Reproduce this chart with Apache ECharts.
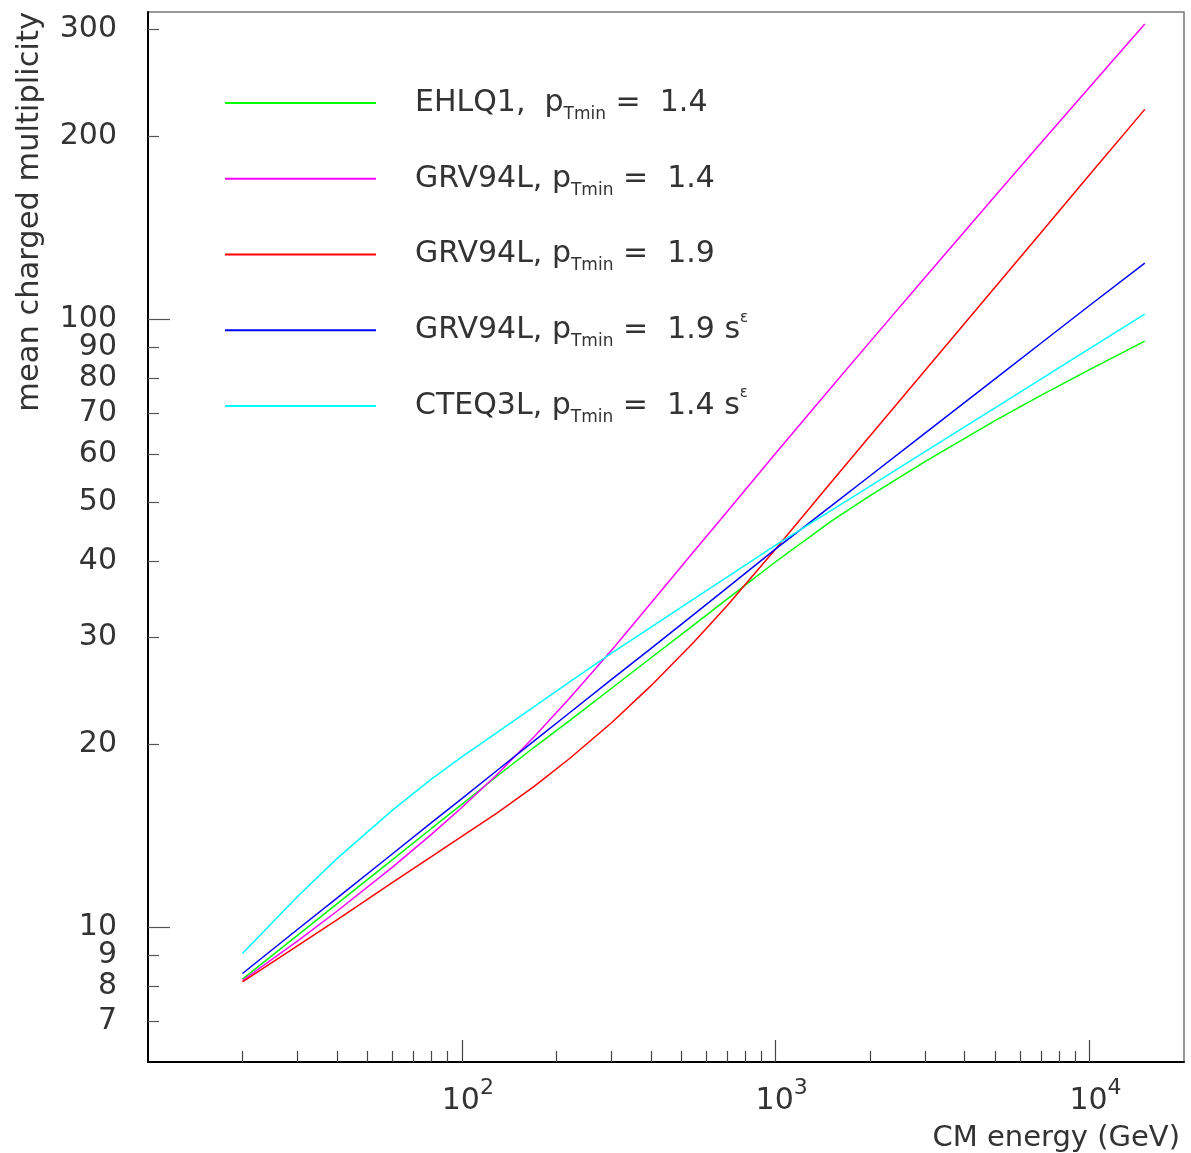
<!DOCTYPE html>
<html><head><meta charset="utf-8">
<script src="https://cdn.jsdelivr.net/npm/echarts@6/dist/echarts.min.js"></script>
<style>html,body{margin:0;padding:0;background:#fff}#c{width:1191px;height:1153px}</style>
</head><body><div id="c"></div>
<script>
// CM energy (GeV)
const energies = [20,30,40,60,80,100,130,170,220,300,400,550,700,1000,1500,2000,3000,5000,7000,10000,15000];
// mean charged multiplicity per model
const ehlq1_14  = [8.21,9.70,10.92,12.90,14.53,15.92,17.74,19.76,21.84,24.71,27.71,31.44,34.62,39.9,46.49,51.25,58.34,68.07,74.9,82.6,92.0];
const grv94_14  = [8.17,9.49,10.62,12.54,14.21,15.73,17.86,20.56,23.76,28.53,34.10,41.54,48.23,60.16,77.11,91.83,117.3,159.4,194.9,240.7,305.8];
const grv94_19  = [8.13,9.32,10.28,11.83,13.06,14.10,15.43,17.04,18.92,21.68,24.93,29.47,33.78,41.86,53.88,64.31,82.45,112.8,138.7,172.7,221.3];
const grv94_19e = [8.39,9.92,11.16,13.19,14.85,16.27,18.13,20.24,22.5,25.55,28.72,32.72,36.15,41.88,49.27,55.26,65.02,79.74,91.27,105.3,123.6];
const cteq3_14e = [9.05,11.24,12.96,15.56,17.51,19.05,20.93,23.05,25.28,28.22,31.12,34.69,37.64,42.5,48.44,53.15,60.6,71.47,79.64,89.4,101.9];

const seriesNames = ['EHLQ1, pTmin = 1.4','GRV94L, pTmin = 1.4','GRV94L, pTmin = 1.9','GRV94L, pTmin = 1.9 s^eps','CTEQ3L, pTmin = 1.4 s^eps'];
const legendLabels = [
  '{sp| }{t|EHLQ1,  p}{s|Tmin}{t| =  1.4}',
  '{sp| }{t|GRV94L, p}{s|Tmin}{t| =  1.4}',
  '{sp| }{t|GRV94L, p}{s|Tmin}{t| =  1.9}',
  '{sp| }{t|GRV94L, p}{s|Tmin}{t| =  1.9 s}{e|ε}',
  '{sp| }{t|CTEQ3L, p}{s|Tmin}{t| =  1.4 s}{e|ε}'
];
const seriesValues = [ehlq1_14, grv94_14, grv94_19, grv94_19e, cteq3_14e];
const seriesColors = ['#00ff00','#ff00ff','#ff0000','#0000ff','#00ffff'];

const yMinorTicks = [7,8,9,20,30,40,50,60,70,80,90,200,300];
const yMajorTicks = [10,100];
const yTickLabels = [7,8,9,10,20,30,40,50,60,70,80,90,100,200,300];
const xMinorTicks = [20,30,40,50,60,70,80,90,200,300,400,500,600,700,800,900,2000,3000,4000,5000,6000,7000,8000,9000];
const xMajorTicks = [100,1000,10000];

const FONT = 'DejaVu Sans';
const TXT = '#333';
const gridRect = {left:148, top:12, width:1036, height:1050};

const chart = echarts.init(document.getElementById('c'), null, {renderer:'canvas'});
const series = seriesValues.map((vals, i) => ({
  name: seriesNames[i], type:'line', xAxisIndex:0, yAxisIndex:0,
  data: energies.map((e, j) => [e, vals[j]]),
  symbol:'none', showSymbol:false, smooth:false,
  lineStyle:{color:seriesColors[i], width:1.5}, itemStyle:{color:seriesColors[i]},
  emphasis:{disabled:true}, z: 3
}));

chart.setOption({
  animation:false,
  backgroundColor:'#fff',
  grid:[
    Object.assign({show:true, borderColor:'#777', borderWidth:1.5, backgroundColor:'transparent', containLabel:false}, gridRect),
    Object.assign({show:false, containLabel:false}, gridRect)
  ],
  legend:{
    orient:'vertical', left:224, top:83, padding:0, itemWidth:151, itemHeight:14, itemGap:35.75,
    selectedMode:false,
    itemStyle:{opacity:0, borderWidth:0},
    data: seriesNames,
    formatter: name => legendLabels[seriesNames.indexOf(name)],
    textStyle:{
      fontFamily:FONT, fontSize:30, color:TXT, lineHeight:40,
      rich:{
        sp:{width:34, fontSize:30, lineHeight:40},
        t:{fontFamily:FONT, fontSize:30, color:TXT, lineHeight:40, verticalAlign:'middle'},
        s:{fontFamily:FONT, fontSize:17, color:TXT, lineHeight:20, verticalAlign:'bottom'},
        e:{fontFamily:FONT, fontSize:15, color:TXT, lineHeight:18, verticalAlign:'top'}
      }
    }
  },
  xAxis:[
    {
      type:'log', gridIndex:0, min:10, max:20000, position:'bottom',
      name:'CM energy (GeV)', nameLocation:'end', nameGap:-4, nameMoveOverlap:false,
      nameTextStyle:{fontFamily:FONT, fontSize:29, color:TXT, align:'right', verticalAlign:'top', lineHeight:30, padding:[61,0,0,0]},
      axisLine:{show:true, onZero:false, lineStyle:{color:'#000', width:2}},
      axisTick:{show:true, inside:true, length:11, customValues:xMinorTicks, lineStyle:{color:'#444', width:1.2}},
      axisLabel:{show:true, customValues:xMajorTicks, margin:15,
        formatter: v => '{p| }{b|10}{s|' + Math.round(Math.log10(v)) + '}',
        rich:{
          p:{width:12, fontSize:22, lineHeight:12},
          b:{fontFamily:FONT, fontSize:30, color:TXT, lineHeight:48, verticalAlign:'middle'},
          s:{fontFamily:FONT, fontSize:22, color:TXT, lineHeight:12, verticalAlign:'top'}
        }},
      splitLine:{show:false}, minorTick:{show:false}, minorSplitLine:{show:false}
    },
    {
      type:'log', gridIndex:1, min:10, max:20000, position:'bottom',
      axisLine:{show:false},
      axisTick:{show:true, inside:true, length:22, customValues:xMajorTicks, lineStyle:{color:'#444', width:1.2}},
      axisLabel:{show:false}, splitLine:{show:false}
    }
  ],
  yAxis:[
    {
      type:'log', gridIndex:0, min:6, max:320, position:'left',
      name:'mean charged multiplicity', nameLocation:'end', nameRotate:90, nameGap:0, nameMoveOverlap:false,
      nameTextStyle:{fontFamily:FONT, fontSize:30.5, color:TXT, align:'right', verticalAlign:'bottom', lineHeight:30, padding:[0,0,103,0]},
      axisLine:{show:true, onZero:false, lineStyle:{color:'#000', width:2}},
      axisTick:{show:true, inside:true, length:11, customValues:yMinorTicks, lineStyle:{color:'#555', width:1.2}},
      axisLabel:{show:true, customValues:yTickLabels, margin:31, fontFamily:FONT, fontSize:30, color:TXT, lineHeight:24,
        formatter: v => String(Math.round(v))},
      splitLine:{show:false}, minorTick:{show:false}, minorSplitLine:{show:false}
    },
    {
      type:'log', gridIndex:1, min:6, max:320, position:'left',
      axisLine:{show:false},
      axisTick:{show:true, inside:true, length:22, customValues:yMajorTicks, lineStyle:{color:'#555', width:1.2}},
      axisLabel:{show:false}, splitLine:{show:false}
    }
  ],
  series: series
});
</script></body></html>
